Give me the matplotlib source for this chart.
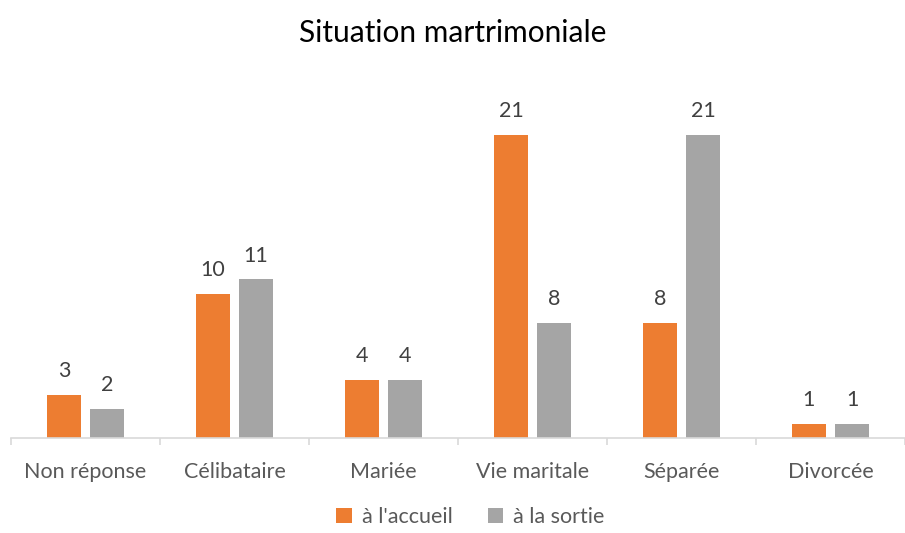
import matplotlib.pyplot as plt
import numpy as np

categories = ["Non réponse", "Célibataire", "Mariée", "Vie maritale", "Séparée", "Divorcée"]
accueil = [3, 10, 4, 21, 8, 1]
sortie = [2, 11, 4, 8, 21, 1]
series_labels = ["à l'accueil", "à la sortie"]

plt.rcParams["font.family"] = ["Lato", "DejaVu Sans"]

fig = plt.figure(figsize=(9.05, 5.33), dpi=100)
ax = fig.add_axes([11 / 905, 95 / 533, 894 / 905, 346 / 533])

x = np.arange(len(categories))
width = 0.23
gap = 0.06
b1 = ax.bar(x - (width + gap) / 2, accueil, width, color="#ED7D31", label=series_labels[0])
b2 = ax.bar(x + (width + gap) / 2, sortie, width, color="#A5A5A5", label=series_labels[1])

for bars in (b1, b2):
    ax.bar_label(bars, padding=10, fontsize=15.5, color="#404040")

ax.set_xlim(-0.5, len(categories) - 0.5)
ax.set_ylim(0, 24)
ax.set_yticks([])
for side in ("top", "right", "left"):
    ax.spines[side].set_visible(False)
ax.spines["bottom"].set_color("#D9D9D9")
ax.spines["bottom"].set_linewidth(1.2)

ax.set_xticks(x)
ax.set_xticklabels(categories, fontsize=15.5, color="#595959")
ax.tick_params(axis="x", length=0, pad=17)
ax.set_xticks(np.arange(len(categories) + 1) - 0.5, minor=True)
ax.tick_params(axis="x", which="minor", length=5, color="#D9D9D9", width=1.2)

fig.suptitle("Situation martrimoniale", y=0.965, fontsize=21.5, color="#000000")
fig.legend(loc="lower center", bbox_to_anchor=(0.52, -0.026), ncol=2, frameon=False,
           fontsize=15.5, handlelength=0.7, handleheight=0.7, columnspacing=1.6,
           handletextpad=0.5, labelcolor="#595959")

fig.savefig("out.png", dpi=100)
